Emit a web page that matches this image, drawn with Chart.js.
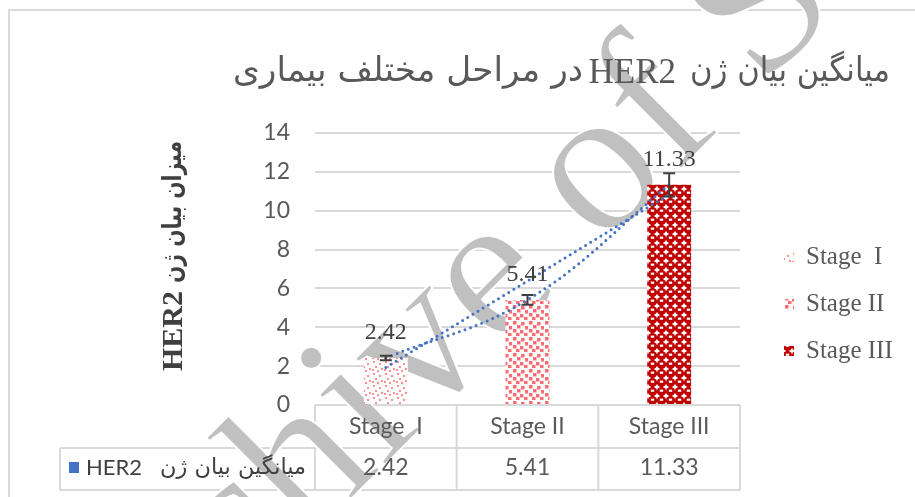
<!DOCTYPE html>
<html>
<head>
<meta charset="utf-8">
<script src="https://cdn.jsdelivr.net/npm/chart.js@4.4.0/dist/chart.umd.min.js"></script>
<style>
  html, body { margin: 0; padding: 0; background: #fff; }
</style>
</head>
<body>
<canvas id="chart" width="915" height="497"></canvas>
<script>
const stages = ["Stage  I", "Stage II", "Stage III"];
const her2Mean = [2.42, 5.41, 11.33];
const her2Err = [0.12, 0.25, 0.6];
const yTicks = [0, 2, 4, 6, 8, 10, 12, 14];
// title: "میانگین بیان ژن HER2 در مراحل مختلف بیماری"
const titleRight = "میانگین بیان ژن";
const titleLeft = "در مراحل مختلف بیماری";
const geneName = "HER2";
const yTitleText = "میزان بیان ژن";
const seriesName = "میانگین بیان ژن";
const watermark = "Archive of SID";

const gridColor = "#D9D9D9";
const textGray = "#595959";
const trendBlue = "#4472C4";

// linear trendline from the means (least squares)
const n = her2Mean.length;
const mx = (n + 1) / 2;
const my = her2Mean.reduce((a, b) => a + b, 0) / n;
let sxy = 0, sxx = 0;
her2Mean.forEach((v, i) => { sxy += (i + 1 - mx) * (v - my); sxx += (i + 1 - mx) ** 2; });
const slope = sxy / sxx;
const linearFit = her2Mean.map((v, i) => my + slope * (i + 1 - mx));

// excel-like pattern fills
function makePattern(kind) {
  const c = document.createElement("canvas");
  const g = c.getContext("2d");
  if (kind === 0) {
    c.width = 12; c.height = 12;
    g.fillStyle = "#fff"; g.fillRect(0, 0, 12, 12);
    g.fillStyle = "#FF9090";
    [[1, 1], [7, 3], [3, 6], [9, 8], [5, 10], [0, 9]].forEach(p => g.fillRect(p[0], p[1], 2, 2));
  } else if (kind === 1) {
    c.width = 16; c.height = 16;
    g.fillStyle = "#fff"; g.fillRect(0, 0, 16, 16);
    g.fillStyle = "#FF6B70";
    [[1, 1], [9, 2], [5, 5], [13, 6], [1, 9], [8, 10], [4, 13], [12, 13]].forEach(p => g.fillRect(p[0], p[1], 3.5, 3.5));
  } else {
    c.width = 9; c.height = 9;
    g.fillStyle = "#fff"; g.fillRect(0, 0, 9, 9);
    g.fillStyle = "#C00000";
    g.beginPath(); g.arc(4.5, 4.5, 4.6, 0, Math.PI * 2); g.fill();
    g.fillStyle = "#fff";
    g.fillRect(2.8, 2.6, 3.4, 2.2);
  }
  return document.getElementById("chart").getContext("2d").createPattern(c, "repeat");
}
const fills = [makePattern(0), makePattern(1), makePattern(2)];

// draw text squeezed/stretched horizontally to a given width
function fitText(ctx, text, x, y, width, font, align) {
  ctx.save();
  ctx.font = font;
  const k = width / ctx.measureText(text).width;
  ctx.translate(x, y);
  ctx.scale(k, 1);
  ctx.textAlign = align;
  ctx.fillText(text, 0, 0);
  ctx.restore();
}

const excelExtras = {
  id: "excelExtras",
  beforeDraw(chart) {
    const ctx = chart.ctx;
    const area = chart.chartArea;
    const x = chart.scales.x;
    ctx.save();
    ctx.fillStyle = "#fff";
    ctx.fillRect(0, 0, chart.width, chart.height);
    // outer frame
    ctx.strokeStyle = gridColor;
    ctx.lineWidth = 2;
    ctx.strokeRect(9, 10, 1000, 1000);
    // data table lines
    const rowMid = 448, rowEnd = 490;
    const bounds = [area.left];
    for (let i = 0; i < stages.length - 1; i++) {
      bounds.push((x.getPixelForValue(i) + x.getPixelForValue(i + 1)) / 2);
    }
    bounds.push(area.right);
    ctx.beginPath();
    bounds.forEach(b => { ctx.moveTo(b, area.bottom); ctx.lineTo(b, rowEnd); });
    ctx.moveTo(60, rowMid); ctx.lineTo(area.right, rowMid);
    ctx.moveTo(60, rowEnd); ctx.lineTo(area.right, rowEnd);
    ctx.moveTo(60, rowMid); ctx.lineTo(60, rowEnd);
    ctx.stroke();
    ctx.restore();
  },
  beforeDatasetsDraw(chart) {
    // watermark, anchored at the baseline start of the "i"
    const ctx = chart.ctx;
    ctx.save();
    ctx.font = "210px 'Liberation Serif'";
    const pre = ctx.measureText("Arch").width;
    ctx.translate(382, 468);
    ctx.rotate(-45 * Math.PI / 180);
    ctx.fillStyle = "#C0C0C0";
    ctx.strokeStyle = "#fff";
    ctx.lineWidth = 2;
    ctx.fillText(watermark, -pre, 0);
    ctx.strokeText(watermark, -pre, 0);
    ctx.restore();
  },
  afterDatasetsDraw(chart) {
    const ctx = chart.ctx;
    const x = chart.scales.x, y = chart.scales.y;
    const bars = chart.getDatasetMeta(2).data;
    ctx.save();
    // error bars
    ctx.strokeStyle = "#404040";
    ctx.lineWidth = 2;
    bars.forEach((el, i) => {
      const top = y.getPixelForValue(her2Mean[i] + her2Err[i]);
      const bot = y.getPixelForValue(her2Mean[i] - her2Err[i]);
      ctx.beginPath();
      ctx.moveTo(el.x, top); ctx.lineTo(el.x, bot);
      ctx.moveTo(el.x - 6, top); ctx.lineTo(el.x + 6, top);
      ctx.moveTo(el.x - 6, bot); ctx.lineTo(el.x + 6, bot);
      ctx.stroke();
    });
    // data labels
    ctx.fillStyle = "#404040";
    ctx.font = "24px 'Liberation Serif'";
    ctx.textAlign = "center";
    ctx.textBaseline = "middle";
    bars.forEach((el, i) => ctx.fillText(her2Mean[i].toFixed(2), el.x, el.y - 25));

    // table text
    ctx.fillStyle = textGray;
    ctx.font = "23px Lato, 'DejaVu Sans'";
    stages.forEach((s, i) => {
      ctx.fillText(s, x.getPixelForValue(i), 427);
      ctx.fillText(her2Mean[i].toFixed(2), x.getPixelForValue(i), 468);
    });
    ctx.fillStyle = trendBlue;
    ctx.fillRect(69, 462, 10, 11);
    ctx.fillStyle = "#404040";
    ctx.font = "22px Lato";
    ctx.textAlign = "left";
    ctx.fillText(geneName, 86, 468);
    fitText(ctx, seriesName, 306, 468, 146, "22px 'DejaVu Sans'", "right");

    // legend
    ctx.font = "25px 'Liberation Serif'";
    ctx.textAlign = "left";
    [257, 304, 351].forEach((ly, i) => {
      ctx.fillStyle = fills[i];
      ctx.fillRect(784, ly - 5, 10, 10);
      ctx.fillStyle = textGray;
      ctx.fillText(stages[i], 806, ly);
    });

    // title
    ctx.fillStyle = textGray;
    fitText(ctx, titleRight, 890, 72, 200, "34px 'DejaVu Sans'", "right");
    ctx.font = "35px 'Liberation Serif'";
    ctx.textAlign = "right";
    ctx.fillText(geneName, 676, 74);
    fitText(ctx, titleLeft, 583, 72, 350, "34px 'DejaVu Sans'", "right");

    // y axis title (reads bottom to top)
    ctx.translate(174, 256);
    ctx.rotate(-Math.PI / 2);
    ctx.fillStyle = "#404040";
    ctx.font = "bold 30px 'Liberation Serif'";
    ctx.textAlign = "left";
    ctx.fillText(geneName, -115, 0);
    fitText(ctx, yTitleText, -27, 0, 142, "bold 26px 'DejaVu Sans'", "left");
    ctx.restore();
  }
};

new Chart(document.getElementById("chart"), {
  data: {
    labels: stages,
    datasets: [
      {
        type: "line",
        data: her2Mean,
        borderColor: trendBlue,
        borderWidth: 3,
        borderDash: [0, 6],
        borderCapStyle: "round",
        pointRadius: 0,
        tension: 0.4,
        fill: false,
        order: 1
      },
      {
        type: "line",
        data: linearFit,
        borderColor: trendBlue,
        borderWidth: 3,
        borderDash: [0, 6],
        borderCapStyle: "round",
        pointRadius: 0,
        tension: 0,
        fill: false,
        order: 1
      },
      {
        type: "bar",
        data: her2Mean,
        backgroundColor: fills,
        barPercentage: 0.31,
        categoryPercentage: 1,
        order: 2
      }
    ]
  },
  options: {
    responsive: false,
    animation: false,
    devicePixelRatio: 1,
    layout: { padding: { top: 133, right: 175, bottom: 0, left: 0 } },
    plugins: {
      legend: { display: false },
      title: { display: false },
      tooltip: { enabled: false }
    },
    scales: {
      x: {
        offset: true,
        grid: { display: false },
        border: { display: false },
        ticks: { display: false },
        afterFit: s => { s.height = 92; }
      },
      y: {
        min: 0,
        max: 14,
        afterBuildTicks: s => { s.ticks = yTicks.map(v => ({ value: v })); },
        ticks: { padding: 25, color: textGray, font: { family: "Lato", size: 23 } },
        grid: { color: gridColor, lineWidth: 2, drawTicks: false },
        border: { display: false },
        afterFit: s => { s.width = 315; }
      }
    }
  },
  plugins: [excelExtras]
});
</script>
</body>
</html>
